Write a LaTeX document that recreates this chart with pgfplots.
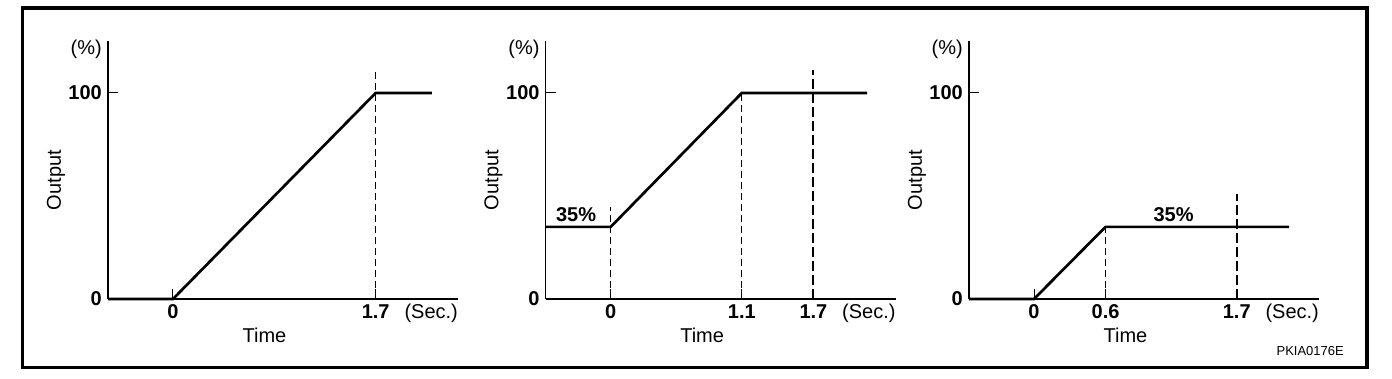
\documentclass[border=0pt]{standalone}
\usepackage{fontspec}
\setmainfont{Liberation Sans}
\usepackage{pgfplots}
\pgfplotsset{compat=1.18}
\pgfplotsset{
  panel/.style={
    scale only axis,
    width=350pt, height=258pt,
    anchor=south west,
    axis lines=left,
    axis line style={line width=1.2pt, -},
    xmin=-0.545, xmax=2.39,
    ymin=0, ymax=125.2,
    ytick={0,100}, yticklabels={0,100},
    tick style={line width=1pt, black},
    major tick length=10pt,
    tick align=inside,
    ticklabel style={font=\fontsize{20}{24}\selectfont\bfseries},
    xticklabel style={anchor=base, inner sep=0pt, yshift=-19.5pt},
    yticklabel style={anchor=east, inner sep=0pt, xshift=-6pt},
    xlabel={Time},
    ylabel={Output},
    label style={font=\fontsize{20}{24}\selectfont},
    xlabel style={at={(axis description cs:0.447,-0.14)}, anchor=center},
    ylabel style={at={(axis description cs:-0.149,0.461)}, anchor=center, rotate=0},
    clip=false,
  },
  curve/.style={line width=2.7pt, black, line join=miter},
  thindash/.style={line width=1pt, black, dash pattern=on 7pt off 4pt},
  thickdash/.style={line width=2pt, black, dash pattern=on 10pt off 4pt},
}
\newcommand{\lbl}{\fontsize{20}{24}\selectfont}
\begin{document}
\begin{tikzpicture}
\path (0pt,0pt) rectangle (1392pt,378pt);
\draw[line width=3.3pt] (22.8pt,10.7pt) rectangle (1367pt,370pt);

% Panel 1
\begin{axis}[panel, at={(108pt,79pt)}, xtick={0,1.7}, xticklabels={0,1.7}]
\addplot[curve] coordinates {(-0.545,0) (0,0) (1.7,100) (2.17,100)};
\addplot[thindash] coordinates {(1.7,0) (1.7,111)};
\node[anchor=east, inner sep=0pt, xshift=-6pt, font=\lbl] at (axis description cs:0,0.969) {(\%)};
\node[anchor=base west, inner sep=0pt, yshift=-19.5pt, font=\lbl] at (axis cs:1.94,0) {(Sec.)};
\end{axis}

% Panel 2
\begin{axis}[panel, at={(545.7pt,79pt)}, xtick={0,1.1,1.7}, xticklabels={0,1.1,1.7}]
\addplot[curve] coordinates {(-0.545,35) (0,35) (1.1,100) (2.15,100)};
\addplot[thindash] coordinates {(0,0) (0,44.7)};
\addplot[thindash] coordinates {(1.1,0) (1.1,100)};
\addplot[thickdash] coordinates {(1.7,0) (1.7,111)};
\node[font=\lbl\bfseries] at (axis cs:-0.29,40.8) {35\%};
\node[anchor=east, inner sep=0pt, xshift=-6pt, font=\lbl] at (axis description cs:0,0.969) {(\%)};
\node[anchor=base west, inner sep=0pt, yshift=-19.5pt, font=\lbl] at (axis cs:1.94,0) {(Sec.)};
\end{axis}

% Panel 3
\begin{axis}[panel, at={(969pt,79pt)}, xtick={0,0.6,1.7}, xticklabels={0,0.6,1.7}]
\addplot[curve] coordinates {(-0.545,0) (0,0) (0.6,35) (2.14,35)};
\addplot[thindash] coordinates {(0.6,0) (0.6,35)};
\addplot[thickdash] coordinates {(1.7,0) (1.7,51)};
\node[font=\lbl\bfseries] at (axis cs:1.17,40.8) {35\%};
\node[anchor=east, inner sep=0pt, xshift=-6pt, font=\lbl] at (axis description cs:0,0.969) {(\%)};
\node[anchor=base west, inner sep=0pt, yshift=-19.5pt, font=\lbl] at (axis cs:1.94,0) {(Sec.)};
\end{axis}

\node[anchor=base east, inner sep=0pt, font=\fontsize{13}{15}\selectfont] at (1344pt,23pt) {PKIA0176E};
\end{tikzpicture}
\end{document}
